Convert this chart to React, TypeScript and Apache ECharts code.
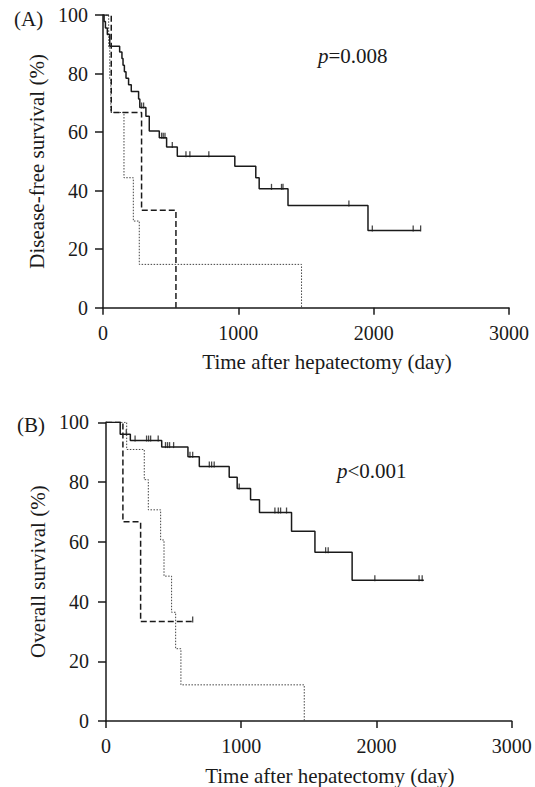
import React, { useEffect, useRef } from "react";
import * as echarts from "echarts";

// ---------- Panel A: disease-free survival ----------
const dfsSolidTimes = [0, 8, 18, 32, 50, 123, 140, 148, 158, 170, 189, 209, 263, 272, 317, 342, 416, 470, 549, 974, 1129, 1154, 1367, 1958, 2347];
const dfsSolidValues = [100, 97.8, 95.6, 93.3, 89.3, 87.4, 85.1, 82.8, 80.6, 78.4, 76.2, 73.9, 71.3, 68.4, 65.4, 60.4, 58.1, 54.9, 51.7, 48.3, 44.4, 40.6, 34.9, 26.4, 26.4];
const dfsSolidCensorTimes = [285, 300, 433, 445, 458, 512, 613, 642, 782, 1245, 1319, 1330, 1817, 1990, 2292, 2347];
const dfsSolidCensorValues = [68.4, 68.4, 58.1, 58.1, 58.1, 54.9, 51.7, 51.7, 51.7, 40.6, 40.6, 40.6, 34.9, 26.4, 26.4, 26.4];

const dfsDashedTimes = [0, 61, 285, 539];
const dfsDashedValues = [100, 66.7, 33.3, 0];

const dfsDottedTimes = [0, 42, 50, 58, 155, 224, 268, 1467];
const dfsDottedValues = [100, 88.9, 77.8, 66.7, 44.4, 29.6, 14.8, 0];

// ---------- Panel B: overall survival ----------
const osSolidTimes = [0, 105, 180, 412, 606, 690, 911, 970, 1069, 1135, 1372, 1545, 1820, 2350];
const osSolidValues = [100, 96.0, 93.9, 91.7, 88.5, 85.2, 81.6, 77.8, 74.1, 69.8, 63.5, 56.5, 47.1, 47.1];
const osSolidCensorTimes = [150, 215, 300, 315, 330, 386, 440, 455, 470, 500, 621, 641, 764, 781, 800, 985, 1249, 1274, 1291, 1335, 1624, 1643, 1988, 2315, 2338];
const osSolidCensorValues = [96.0, 93.9, 93.9, 93.9, 93.9, 93.9, 91.7, 91.7, 91.7, 91.7, 88.5, 88.5, 85.2, 85.2, 85.2, 77.8, 69.8, 69.8, 69.8, 69.8, 56.5, 56.5, 47.1, 47.1, 47.1];

const osDashedTimes = [0, 125, 256, 641];
const osDashedValues = [100, 66.7, 33.3, 33.3];
const osDashedCensorTimes = [641];
const osDashedCensorValues = [33.3];

const osDottedTimes = [0, 153, 283, 313, 404, 429, 485, 515, 554, 1466];
const osDottedValues = [100, 90.9, 80.8, 70.7, 60.6, 48.5, 36.4, 24.2, 12.1, 0];

// ---------- Axis ticks / texts ----------
const xTicks = [0, 1000, 2000, 3000];
const yTicks = [0, 20, 40, 60, 80, 100];
const xTitle = "Time after hepatectomy (day)";
const yTitleA = "Disease-free survival (%)";
const yTitleB = "Overall survival (%)";
const panelLabels = ["(A)", "(B)"];
const pValueTexts = ["0.008", "0.001"];
const pOps = ["=", "<"];

const FONT = '"Liberation Serif", "Times New Roman", Times, serif';
const INK = "#1a1a1a";

function pairs(ts: number[], vs: number[]) {
  return ts.map((t, i) => [t, vs[i]]);
}

export default function App() {
  const ref = useRef<HTMLDivElement>(null);

  useEffect(() => {
    if (!ref.current) return;
    const chart = echarts.init(ref.current, undefined, { renderer: "svg" });

    const xAxisBase = (gridIndex: number) => ({
      type: "value" as const,
      gridIndex,
      min: xTicks[0],
      max: xTicks[xTicks.length - 1],
      interval: xTicks[1] - xTicks[0],
      splitLine: { show: false },
      axisLine: { onZero: false, lineStyle: { color: INK, width: 1.5 } },
      axisTick: { show: true, length: 7, lineStyle: { color: INK, width: 1.5 } },
      axisLabel: {
        color: INK,
        fontFamily: FONT,
        fontSize: 20,
        margin: 15,
        formatter: (v: number) => String(v),
      },
      name: xTitle,
      nameLocation: "middle" as const,
      nameGap: 44,
      nameTextStyle: { color: INK, fontFamily: FONT, fontSize: 21, padding: [0, 0, 0, 42] },
    });

    const yAxisBase = (gridIndex: number, name: string, gap: number, margin: number) => ({
      type: "value" as const,
      gridIndex,
      min: yTicks[0],
      max: yTicks[yTicks.length - 1],
      interval: yTicks[1] - yTicks[0],
      splitLine: { show: false },
      axisLine: { onZero: false, lineStyle: { color: INK, width: 1.5 } },
      axisTick: { show: true, length: 8, lineStyle: { color: INK, width: 1.5 } },
      axisLabel: { color: INK, fontFamily: FONT, fontSize: 20, margin },
      name,
      nameLocation: "middle" as const,
      nameGap: gap,
      nameTextStyle: { color: INK, fontFamily: FONT, fontSize: 21 },
    });

    const stepLine = (
      idx: number,
      ts: number[],
      vs: number[],
      type: "solid" | number[],
      width: number,
      color: string
    ) => ({
      type: "line" as const,
      xAxisIndex: idx,
      yAxisIndex: idx,
      step: "end" as const,
      showSymbol: false,
      symbol: "none",
      data: pairs(ts, vs),
      lineStyle: { color, width, type },
      silent: true,
    });

    const censor = (idx: number, ts: number[], vs: number[]) => ({
      type: "scatter" as const,
      xAxisIndex: idx,
      yAxisIndex: idx,
      symbol: "rect",
      symbolSize: [1.3, 6],
      symbolOffset: [0, -2],
      itemStyle: { color: INK },
      data: pairs(ts, vs),
      silent: true,
    });

    chart.setOption({
      animation: false,
      backgroundColor: "#ffffff",
      textStyle: { fontFamily: FONT },
      grid: [
        { left: 103, top: 15, width: 406, height: 292.7 },
        { left: 106, top: 422.3, width: 405.7, height: 299.4 },
      ],
      xAxis: [xAxisBase(0), xAxisBase(1)],
      yAxis: [yAxisBase(0, yTitleA, 44, 15), yAxisBase(1, yTitleB, 47, 17)],
      series: [
        stepLine(0, dfsDottedTimes, dfsDottedValues, [1.5, 1.5], 1, "#444"),
        stepLine(0, dfsDashedTimes, dfsDashedValues, [6, 3], 1.5, INK),
        stepLine(0, dfsSolidTimes, dfsSolidValues, "solid", 1.5, INK),
        censor(0, dfsSolidCensorTimes, dfsSolidCensorValues),
        stepLine(1, osDottedTimes, osDottedValues, [1.5, 1.5], 1, "#444"),
        stepLine(1, osDashedTimes, osDashedValues, [6, 3], 1.5, INK),
        stepLine(1, osSolidTimes, osSolidValues, "solid", 1.5, INK),
        censor(1, osSolidCensorTimes, osSolidCensorValues),
        censor(1, osDashedCensorTimes, osDashedCensorValues),
      ],
      graphic: [
        {
          type: "text",
          left: 14,
          top: 8,
          style: { text: panelLabels[0], fill: INK, font: `21px ${FONT}` },
        },
        {
          type: "text",
          left: 17,
          top: 414,
          style: { text: panelLabels[1], fill: INK, font: `21px ${FONT}` },
        },
        {
          type: "text",
          left: 318,
          top: 45,
          style: {
            text: `{i|p}{n|${pOps[0]}${pValueTexts[0]}}`,
            rich: {
              i: { fontFamily: FONT, fontSize: 21, fontStyle: "italic", fill: INK },
              n: { fontFamily: FONT, fontSize: 21, fill: INK },
            },
          },
        },
        {
          type: "text",
          left: 337,
          top: 460,
          style: {
            text: `{i|p}{n|${pOps[1]}${pValueTexts[1]}}`,
            rich: {
              i: { fontFamily: FONT, fontSize: 21, fontStyle: "italic", fill: INK },
              n: { fontFamily: FONT, fontSize: 21, fill: INK },
            },
          },
        },
      ],
    });

    return () => chart.dispose();
  }, []);

  return (
    <div
      ref={ref}
      style={{ position: "fixed", left: 0, top: 0, width: 535, height: 787, background: "#fff" }}
    />
  );
}
